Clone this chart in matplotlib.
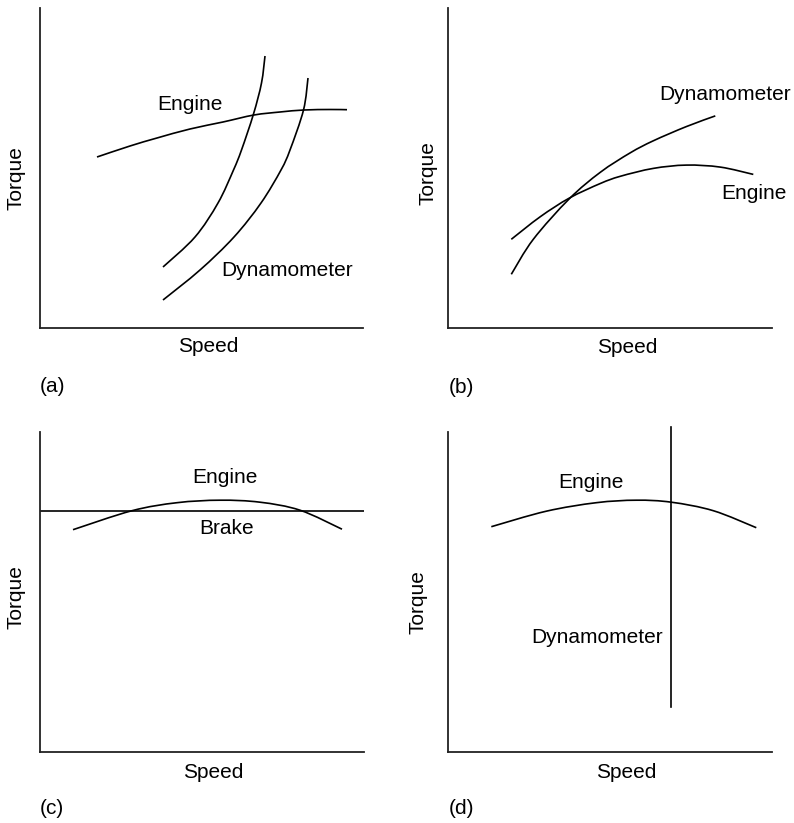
import matplotlib
matplotlib.use("Agg")
import matplotlib.pyplot as plt
import numpy as np
from matplotlib.path import Path
from matplotlib.patches import PathPatch

plt.rcParams['font.family'] = ['Liberation Sans', 'DejaVu Sans']

W, H = 794, 823

# ---------------- data (axis units: speed / torque, arbitrary) ----------------
# Panel (a)
a_engine_x = [57, 90, 117, 150, 183, 214, 240, 264, 290, 307]
a_engine_y = [171, 182, 190, 199, 206, 213, 216, 218, 218.5, 218.3]
a_dyn1_x = [123, 155, 178, 193.5, 201.5, 213.5, 221.5, 225]
a_dyn1_y = [61, 91, 125, 158, 178, 214, 245, 272]
a_dyn2_x = [123, 160, 194, 221, 241, 250, 263.5, 268]
a_dyn2_y = [28, 58, 91, 125, 158, 178, 218, 250]

# Panel (b)
b_engine_x = [63, 92, 121, 152, 172, 205, 238, 272, 305]
b_engine_y = [89, 111.6, 130.2, 144.8, 152, 159.9, 163.2, 161.2, 153.9]
b_dyn_x = [63, 85, 121, 152, 182, 205, 238, 267]
b_dyn_y = [54, 89, 129.5, 156, 175.5, 187.5, 201.7, 212.4]

# Panel (c)
c_engine_x = [33, 92, 137, 180, 220, 260, 302]
c_engine_y = [222, 241, 249, 251.5, 249.5, 241.5, 222.5]
c_brake_y = 241

# Panel (d)
d_engine_x = [43, 98, 148, 188, 223, 265, 308]
d_engine_y = [225, 240.5, 249, 251.5, 249.5, 241, 224]
d_dyn_x = 223
d_dyn_y = [45, 325]

xlabel_text = "Speed"
ylabel_text = "Torque"
panel_tags = ["(a)", "(b)", "(c)", "(d)"]

# ---------------- figure ----------------
fig = plt.figure(figsize=(W / 100, H / 100), dpi=100)
FS = 15
LW = 1.2


def smooth_curve(ax, xs, ys):
    """Draw a smooth curve through the read points as cubic Bezier segments."""
    P = np.column_stack([xs, ys]).astype(float)
    n = len(P)
    verts = [P[0]]
    codes = [Path.MOVETO]
    for i in range(n - 1):
        p0 = P[i - 1] if i > 0 else P[i]
        p1 = P[i]
        p2 = P[i + 1]
        p3 = P[i + 2] if i + 2 < n else P[i + 1]
        c1 = p1 + (p2 - p0) / 6.0
        c2 = p2 - (p3 - p1) / 6.0
        verts += [c1, c2, p2]
        codes += [Path.CURVE4] * 3
    patch = PathPatch(Path(verts, codes), facecolor="none", edgecolor="black", lw=LW)
    ax.add_patch(patch)


def make_axes(left, top, width, height):
    ax = fig.add_axes([left / W, (H - top - height) / H, width / W, height / H])
    ax.set_xlim(0, width)
    ax.set_ylim(0, height)
    for s in ("top", "right"):
        ax.spines[s].set_visible(False)
    for s in ("left", "bottom"):
        ax.spines[s].set_linewidth(1.3)
        ax.spines[s].set_color("#222222")
    ax.set_xticks([])
    ax.set_yticks([])
    ax.patch.set_alpha(0)
    return ax


def labels(ax, sx, sy, tx, ty, tag, tagy):
    ax.text(sx, sy, xlabel_text, ha="center", va="center", fontsize=FS, clip_on=False)
    ax.text(tx, ty, ylabel_text, ha="center", va="center", rotation=90, fontsize=FS, clip_on=False)
    ax.text(0, tagy, tag, ha="left", va="center", fontsize=FS, clip_on=False)


# (a)
ax = make_axes(40, 8, 323, 320)
smooth_curve(ax, a_engine_x, a_engine_y)
smooth_curve(ax, a_dyn1_x, a_dyn1_y)
smooth_curve(ax, a_dyn2_x, a_dyn2_y)
ax.text(150, 223, "Engine", ha="center", va="center", fontsize=FS)
ax.text(247, 57, "Dynamometer", ha="center", va="center", fontsize=FS)
labels(ax, 168, -19, -24, 150, panel_tags[0], -59)

# (b)
ax = make_axes(448.3, 8.3, 323.4, 320)
smooth_curve(ax, b_engine_x, b_engine_y)
smooth_curve(ax, b_dyn_x, b_dyn_y)
ax.text(277, 234, "Dynamometer", ha="center", va="center", fontsize=FS, clip_on=False)
ax.text(306, 135, "Engine", ha="center", va="center", fontsize=FS, clip_on=False)
labels(ax, 179, -19, -20, 155, panel_tags[1], -59)

# (c)
ax = make_axes(40, 431.7, 324, 320)
smooth_curve(ax, c_engine_x, c_engine_y)
ax.axhline(c_brake_y, color="black", lw=LW)
ax.text(185, 274, "Engine", ha="center", va="center", fontsize=FS)
ax.text(187, 223, "Brake", ha="center", va="center", fontsize=FS)
labels(ax, 173, -21, -24, 155, panel_tags[2], -57)

# (d)
ax = make_axes(448.3, 431.7, 323.4, 320)
smooth_curve(ax, d_engine_x, d_engine_y)
ax.plot([d_dyn_x, d_dyn_x], d_dyn_y, color="black", lw=LW, clip_on=False)
ax.text(143, 269, "Engine", ha="center", va="center", fontsize=FS)
ax.text(149, 114, "Dynamometer", ha="center", va="center", fontsize=FS)
labels(ax, 178, -21, -30, 150, panel_tags[3], -57)

fig.savefig("out.png", dpi=100, facecolor="white")
